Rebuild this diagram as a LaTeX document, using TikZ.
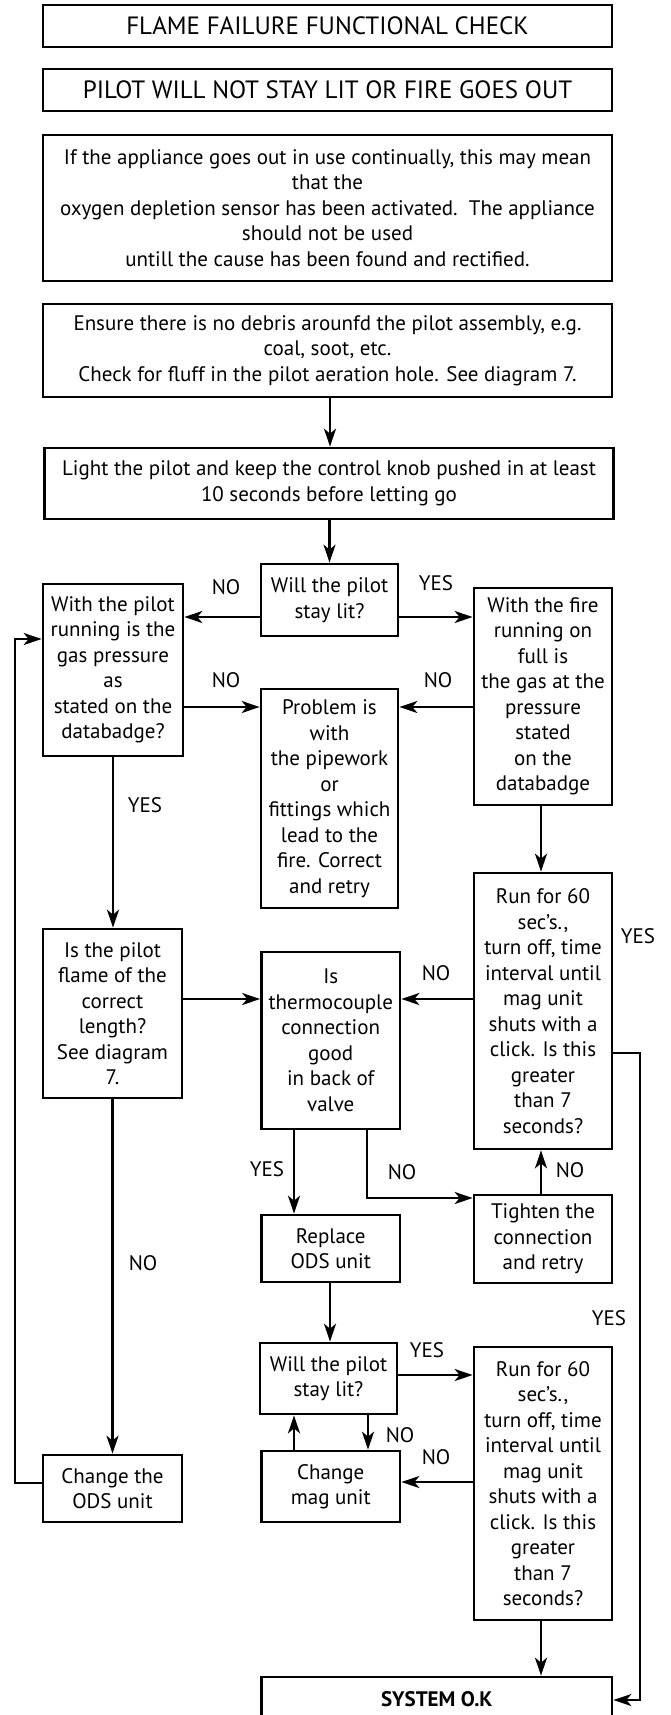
\documentclass[tikz,border=0pt]{standalone}
\usepackage{fontspec}
\setmainfont{PT Sans}
\usetikzlibrary{arrows.meta}
\newcommand\fs{\fontsize{21}{25.5}\selectfont}
\newcommand\fst{\fontsize{25}{26}\selectfont}
\tikzset{
 box/.style={draw, line width=2.7pt, align=center, inner sep=0pt, font=\fs},
 arr/.style={line width=2.3pt, -{Stealth[length=18pt,width=12pt,inset=5pt]}},
 lbl/.style={font=\fs, inner sep=0pt},
}
\begin{document}
\begin{tikzpicture}[x=1pt,y=-1pt]
\useasboundingbox (0,0) rectangle (671,1715);
\fill[white] (0,0) rectangle (671,1715);
\clip (0,0) rectangle (671,1715);
% boxes
\node[box, font=\fst, minimum width=569pt, minimum height=42pt] (t1) at (327.5,26) {FLAME FAILURE FUNCTIONAL CHECK};
\node[box, font=\fst, minimum width=569pt, minimum height=42pt] (t2) at (327.5,90) {PILOT WILL NOT STAY LIT OR FIRE GOES OUT};
\node[box, minimum width=569pt, minimum height=146pt] (t3) at (327.5,208) {If the appliance goes out in use continually, this may mean\\ that the\\ oxygen depletion sensor has been activated.~~The appliance\\ should not be used\\ untill the cause has been found and rectified.};
\node[box, minimum width=569pt, minimum height=93pt] (ens) at (327.5,350.5) {Ensure there is no debris arounfd the pilot assembly, e.g.\\ coal, soot, etc.\\ Check for fluff in the pilot aeration hole. See diagram 7.};
\node[box, minimum width=569pt, minimum height=71pt] (light) at (329,483.5) {Light the pilot and keep the control knob pushed in at least\\ 10 seconds before letting go};
\node[box, minimum width=137pt, minimum height=72pt] (will1) at (329.5,600) {Will the pilot\\ stay lit?};
\node[box, minimum width=140pt, minimum height=172pt] (left1) at (113,670) {With the pilot\\ running is the\\ gas pressure\\ as\\ stated on the\\ databadge?};
\node[box, minimum width=138pt, minimum height=217pt] (right1) at (543,696.5) {With the fire\\ running on\\ full is\\ the gas at the\\ pressure\\ stated\\ on the\\ databadge};
\node[box, minimum width=137pt, minimum height=219pt] (prob) at (329.5,798.5) {Problem is\\ with\\ the pipework\\ or\\ fittings which\\ lead to the\\ fire. Correct\\ and retry};
\node[box, minimum width=138pt, minimum height=276pt] (run1) at (543,1011) {Run for 60\\ sec's.,\\ turn off, time\\ interval until\\ mag unit\\ shuts with a\\ click. Is this\\ greater\\ than 7\\ seconds?};
\node[box, minimum width=139pt, minimum height=169pt] (ispilot) at (112.5,1013.5) {Is the pilot\\ flame of the\\ correct\\ length?\\ See diagram\\ 7.};
\node[box, minimum width=138.5pt, minimum height=177pt] (thermo) at (330.75,1040.5) {Is\\ thermocouple\\ connection\\ good\\ in back of\\ valve};
\node[box, minimum width=138pt, minimum height=88pt] (tighten) at (543,1239) {Tighten the\\ connection\\ and retry};
\node[box, minimum width=138.5pt, minimum height=67pt] (replace) at (330.75,1248.5) {Replace\\ ODS unit};
\node[box, minimum width=137pt, minimum height=71pt] (will2) at (328.5,1378.5) {Will the pilot\\ stay lit?};
\node[box, minimum width=138pt, minimum height=273pt] (run2) at (543,1483.5) {Run for 60\\ sec's.,\\ turn off, time\\ interval until\\ mag unit\\ shuts with a\\ click. Is this\\ greater\\ than 7\\ seconds?};
\node[box, minimum width=138.5pt, minimum height=71pt] (chmag) at (330.75,1486.5) {Change\\ mag unit};
\node[box, minimum width=139pt, minimum height=67pt] (chods) at (112.5,1488.5) {Change the\\ ODS unit};
\node[box, minimum width=350.5pt, minimum height=45pt, font=\fs\bfseries] (sys) at (436.75,1699.5) {SYSTEM O.K};
% connectors
\draw[arr] (ens.south -| 330,0) -- (light.north -| 330,0);
\draw[arr] (light.south -| will1.north) -- (will1.north);
\draw[arr] (will1.west |- 0,617) -- (left1.east |- 0,617);
\draw[arr] (will1.east |- 0,617) -- (right1.west |- 0,617);
\draw[arr] (left1.east |- 0,707) -- (prob.west |- 0,707);
\draw[arr] (right1.west |- 0,707) -- (prob.east |- 0,707);
\draw[arr] (left1.south) -- (left1.south |- ispilot.north);
\draw[arr] (right1.south -| 541,0) -- (run1.north -| 541,0);
\draw[arr] (ispilot.east |- 0,999) -- (thermo.west |- 0,999);
\draw[arr] (run1.west |- 0,999) -- (thermo.east |- 0,999);
\draw[arr] (thermo.south -| 294,0) -- (replace.north -| 294,0);
\draw[arr] (thermo.south -| 367,0) -- (367,1198) -- (tighten.west |- 0,1198);
\draw[arr] (tighten.north -| 541,0) -- (run1.south -| 541,0);
\draw[arr] (run1.east |- 0,1053) -- (640,1053) -- (640,1700) -- (sys.east |- 0,1700);
\draw[arr] (ispilot.south) -- (ispilot.south |- chods.north);
\draw[arr] (chods.west |- 0,1483) -- (15,1483) -- (15,639) -- (left1.west |- 0,639);
\draw[arr] (replace.south -| 330,0) -- (will2.north -| 330,0);
\draw[arr] (will2.east |- 0,1375) -- (run2.west |- 0,1375);
\draw[arr] (chmag.north -| 294,0) -- (will2.south -| 294,0);
\draw[arr] (will2.south -| 368,0) -- (chmag.north -| 368,0);
\draw[arr] (run2.west |- 0,1482) -- (chmag.east |- 0,1482);
\draw[arr] (run2.south -| 541,0) -- (sys.north -| 541,0);
% labels
\node[lbl] (l1) at (226,587) {NO};
\node[lbl] (l2) at (436,583) {YES};
\node[lbl] (l3) at (226,680) {NO};
\node[lbl] (l4) at (438,680) {NO};
\node[lbl] (l5) at (145,805) {YES};
\node[lbl] (l6) at (638,936) {YES};
\node[lbl] (l7) at (436,973) {NO};
\node[lbl] (l8) at (267,1169) {YES};
\node[lbl] (l9) at (402,1172) {NO};
\node[lbl] (l10) at (570,1170) {NO};
\node[lbl] (l11) at (143,1263) {NO};
\node[lbl] (l12) at (609,1318) {YES};
\node[lbl] (l13) at (427,1350) {YES};
\node[lbl] (l14) at (400,1435) {NO};
\node[lbl] (l15) at (436,1457) {NO};
\end{tikzpicture}
\end{document}
